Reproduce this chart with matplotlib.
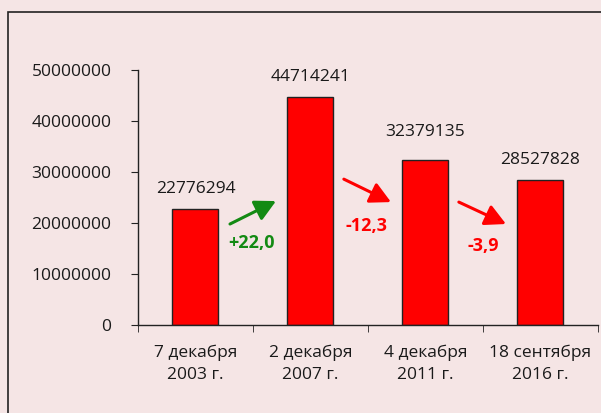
import matplotlib.pyplot as plt
from matplotlib.patches import Rectangle

# data
dates = ['7 декабря\n2003 г.', '2 декабря\n2007 г.', '4 декабря\n2011 г.', '18 сентября\n2016 г.']
voters = [22776294, 44714241, 32379135, 28527828]
changes = ['+22,0', '-12,3', '-3,9']
change_colors = ['#138a13', '#ff0000', '#ff0000']
yticks = [0, 10000000, 20000000, 30000000, 40000000, 50000000]

bg = '#f5e5e5'
plt.rcParams['font.family'] = ['Open Sans', 'DejaVu Sans']

fig = plt.figure(figsize=(6.01, 4.13), dpi=100, facecolor=bg)
ax = fig.add_axes([0.2296, 0.2131, 0.7654, 0.6174])
ax.set_facecolor('none')

# outer frame
fig.patches.append(Rectangle((0.0133, -0.05), 1.1, 1.021, transform=fig.transFigure,
                             fill=False, edgecolor='#222222', linewidth=1.2))

x = range(len(voters))
ax.bar(x, voters, width=0.4, color='#ff0000', edgecolor='#222222', linewidth=1)

label_off = [3900000, 3900000, 5400000, 3900000]
for i, v in enumerate(voters):
    ax.text(i, v + label_off[i], str(v), ha='center', va='center', fontsize=12.5, color='#1a1a1a')

# arrows between bars
arrows = [((0.30, 19800000), (0.70, 24300000)),
          ((1.29, 28600000), (1.70, 24100000)),
          ((2.29, 24100000), (2.70, 19800000))]
text_pos = [(0.485, 16100000), (1.487, 19400000), (2.498, 15500000)]
for (start, end), c, t, p in zip(arrows, change_colors, changes, text_pos):
    ax.annotate('', xy=end, xytext=start,
                arrowprops=dict(arrowstyle='-|>,head_length=1.25,head_width=0.65',
                                color=c, lw=2.2, shrinkA=0, shrinkB=0))
    ax.text(p[0], p[1], t, ha='center', va='center', fontsize=13,
            fontweight='bold', color=c)

ax.set_xlim(-0.5, 3.5)
ax.set_ylim(0, 50000000)
ax.set_yticks(yticks)
ax.set_yticklabels([str(t) for t in yticks], fontsize=12.5, color='#1a1a1a')
ax.set_xticks(list(x))
ax.set_xticklabels(dates, fontsize=12.5, color='#1a1a1a', linespacing=1.5)
ax.set_xticks([-0.5, 0.5, 1.5, 2.5, 3.5], minor=True)
ax.tick_params(axis='x', which='major', length=0, pad=14)
ax.tick_params(axis='x', which='minor', length=5, direction='out', color='#222222')
ax.tick_params(axis='y', length=5, direction='out', color='#222222', pad=14)

for s in ['top', 'right']:
    ax.spines[s].set_visible(False)
for s in ['left', 'bottom']:
    ax.spines[s].set_color('#222222')
    ax.spines[s].set_linewidth(1)

plt.savefig('out.png', dpi=100, facecolor=bg)
